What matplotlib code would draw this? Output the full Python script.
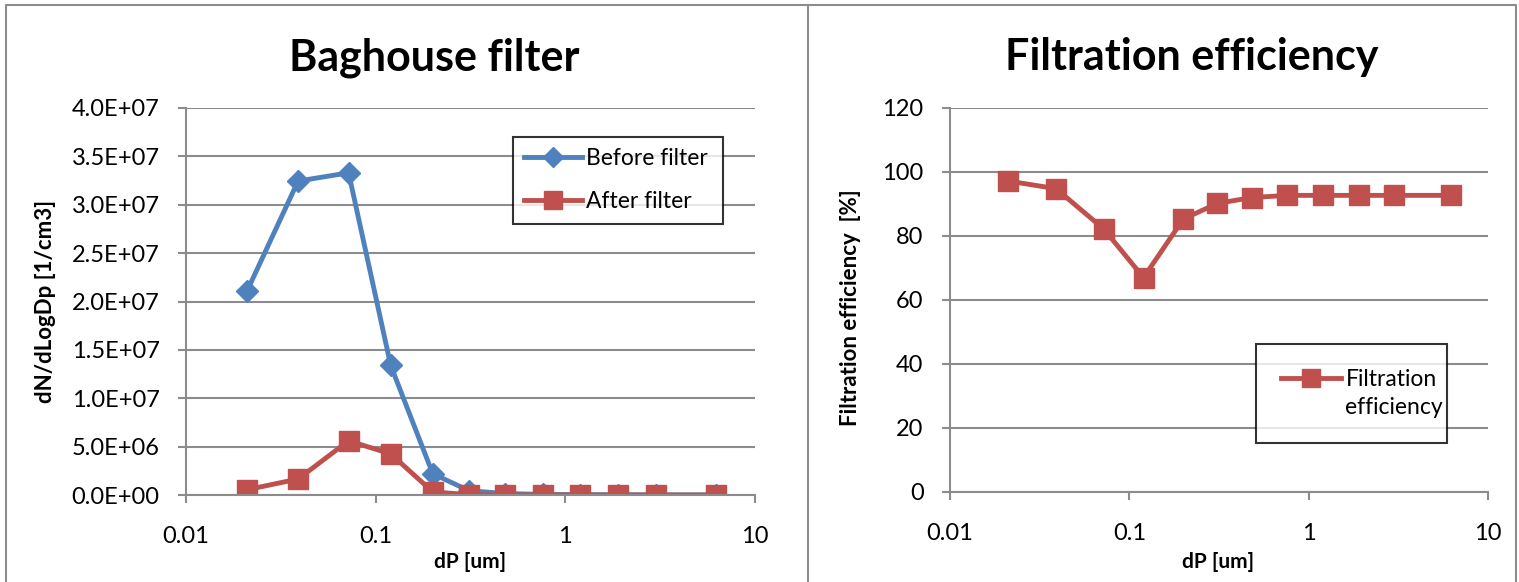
import numpy as np
import matplotlib
matplotlib.use("Agg")
import matplotlib.pyplot as plt
from matplotlib.ticker import FuncFormatter, FixedLocator, NullLocator
from matplotlib.lines import Line2D

plt.rcParams['font.family'] = ['Lato', 'DejaVu Sans']

# particle diameters [um]
dp = [0.021, 0.039, 0.072, 0.12, 0.20, 0.31, 0.48, 0.76, 1.2, 1.9, 3.0, 6.2]

# dN/dLogDp [1/cm3]
before_filter = [2.11e7, 3.245e7, 3.33e7, 1.34e7, 2.2e6, 4.5e5, 1.5e5, 6e4, 3e4, 2e4, 1e4, 5e3]
after_filter = [5.5e5, 1.65e6, 5.6e6, 4.25e6, 3.2e5, 4e4, 1.2e4, 5e3, 2.5e3, 1.5e3, 8e2, 4e2]

# filtration efficiency [%]
efficiency = [97.2, 94.8, 82.2, 67.0, 85.3, 90.2, 92.0, 92.7, 92.7, 92.7, 92.7, 92.7]

blue = '#4F81BD'
red = '#C0504D'
grid_c = '#8C8C8C'
W, H = 1519, 582

fig = plt.figure(figsize=(W / 100, H / 100), dpi=100)

# chart borders (two Excel chart areas side by side)
bx = [6 / W, 1516 / W]
fig.add_artist(Line2D([bx[0], bx[0], bx[1], bx[1]], [0, 1 - 5 / H, 1 - 5 / H, 0],
                      transform=fig.transFigure, color='#8C8C8C', lw=1.5))
fig.add_artist(Line2D([808 / W, 808 / W], [0, 1 - 5 / H], transform=fig.transFigure,
                      color='#8C8C8C', lw=1.5))

ax1 = fig.add_axes([186 / W, 1 - 495 / H, 569 / W, 387 / H])
ax2 = fig.add_axes([950 / W, 1 - 492 / H, 538 / W, 384 / H])


def style_ax(ax):
    ax.set_xscale('log')
    ax.set_xlim(0.01, 10)
    ax.xaxis.set_major_locator(FixedLocator([0.01, 0.1, 1, 10]))
    ax.xaxis.set_minor_locator(NullLocator())
    ax.xaxis.set_major_formatter(FuncFormatter(lambda v, p: '{:g}'.format(v)))
    ax.grid(axis='y', color=grid_c, lw=1.5)
    ax.set_axisbelow(True)
    for s in ['top', 'right']:
        ax.spines[s].set_visible(False)
    for s in ['left', 'bottom']:
        ax.spines[s].set_color(grid_c)
        ax.spines[s].set_linewidth(1.5)
    ax.tick_params(axis='y', direction='out', length=6, width=1.5, color=grid_c,
                   labelsize=17, pad=13)
    ax.tick_params(axis='x', direction='out', length=6, width=1.5, color=grid_c,
                   labelsize=17, pad=16)
    ax.set_xlabel('dP [um]', fontsize=15, fontweight='bold')


# left: particle size distribution
style_ax(ax1)
ax1.plot(dp, before_filter, color=blue, lw=3.5, marker='D', ms=11, label='Before filter')
ax1.plot(dp, after_filter, color=red, lw=3.5, marker='s', ms=14, label='After filter')
ax1.set_ylim(0, 4.0e7)
ax1.set_yticks(np.arange(0, 4.01e7, 5e6))
ax1.yaxis.set_major_formatter(FuncFormatter(lambda v, p: '{:.1E}'.format(v)))
ax1.set_ylabel('dN/dLogDp [1/cm3]', fontsize=16, fontweight='bold')
ax1.yaxis.set_label_coords(-0.228, 0.5)
ax1.xaxis.set_label_coords(0.499, -0.147)
leg1 = ax1.legend(loc='upper left', bbox_to_anchor=(0.5747, 0.672, 0.369, 0.253),
                  mode='expand', borderaxespad=0, fontsize=16.5, frameon=True,
                  fancybox=False, edgecolor='black', handlelength=2.5,
                  handletextpad=0.2, labelspacing=0.95, borderpad=0.5, markerscale=0.9)
leg1.get_frame().set_linewidth(1.5)

# right: filtration efficiency
style_ax(ax2)
ax2.plot(dp, efficiency, color=red, lw=3.5, marker='s', ms=14, label='Filtration')
ax2.set_ylim(0, 120)
ax2.set_yticks(np.arange(0, 121, 20))
ax2.set_ylabel('Filtration efficiency  [%]', fontsize=16, fontweight='bold')
ax2.yaxis.set_label_coords(-0.165, 0.48)
ax2.xaxis.set_label_coords(0.498, -0.156)
h2, l2 = ax2.get_legend_handles_labels()
h2.append(Line2D([], [], color='none'))
l2.append('efficiency')
leg2 = ax2.legend(h2, l2, loc='upper left', bbox_to_anchor=(0.5688, 0.1068, 0.355, 0.2786),
                  mode='expand', borderaxespad=0, fontsize=16.5, frameon=True,
                  fancybox=False, edgecolor='black', handlelength=2.6,
                  handletextpad=0.2, labelspacing=0.3, borderpad=1.1, markerscale=0.9)
leg2.get_frame().set_linewidth(1.5)

# chart titles
fig.text(434.5 / W, 1 - 70 / H, 'Baghouse filter', fontsize=31, fontweight='bold',
         ha='center', va='baseline')
fig.text(1192 / W, 1 - 70 / H, 'Filtration efficiency', fontsize=31, fontweight='bold',
         ha='center', va='baseline')

fig.savefig('out.png', dpi=100)
